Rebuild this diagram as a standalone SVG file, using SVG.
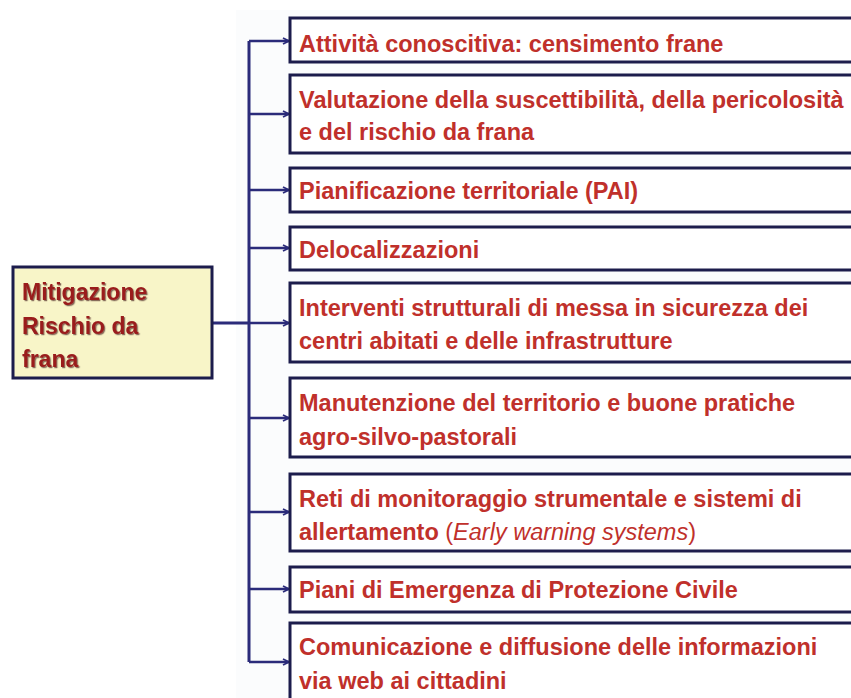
<svg xmlns="http://www.w3.org/2000/svg" width="851" height="698" viewBox="0 0 851 698">
<defs>
<marker id="ah" markerWidth="8" markerHeight="8" refX="7" refY="4" orient="auto" markerUnits="userSpaceOnUse">
<path d="M1,1 L7,4 L1,7" fill="none" stroke="#2b2b7a" stroke-width="1.8"/>
</marker>
<filter id="sh" x="-10%" y="-20%" width="120%" height="140%">
<feDropShadow dx="1.2" dy="1.2" stdDeviation="0.6" flood-color="#3a1010" flood-opacity="0.6"/>
</filter>
<style>
.bx{fill:#ffffff;stroke:#1c1c4c;stroke-width:3}
.root{fill:#f8f5c8;stroke:#1c1c4c;stroke-width:3}
.t{font-family:"Liberation Sans",Arial,sans-serif;font-weight:bold;font-size:23.5px;fill:#c0302b}
.rt{font-family:"Liberation Sans",Arial,sans-serif;font-weight:bold;font-size:23px;fill:#9a1c1c;filter:url(#sh)}
.c{fill:none;stroke:#2b2b7a;stroke-width:3}
.a{fill:none;stroke:#2b2b7a;stroke-width:2.5;marker-end:url(#ah)}
</style>
</defs>
<rect x="0" y="0" width="851" height="698" fill="#ffffff"/>
<rect x="236" y="10" width="615" height="688" fill="#fbfcfd"/>
<g id="connectors">
<path class="c" d="M212,323 L249,323 M249,41 L249,662"/>
<path class="a" d="M249,41 L289,41"/>
<path class="a" d="M249,114 L289,114"/>
<path class="a" d="M249,190 L289,190"/>
<path class="a" d="M249,248 L289,248"/>
<path class="a" d="M249,323 L289,323"/>
<path class="a" d="M249,418 L289,418"/>
<path class="a" d="M249,512 L289,512"/>
<path class="a" d="M249,589 L289,589"/>
<path class="a" d="M249,662 L289,662"/>
</g>
<g id="root">
<rect class="root" x="13" y="267" width="199" height="111"/>
<text class="rt" x="22" y="300">Mitigazione</text>
<text class="rt" x="22" y="334">Rischio da</text>
<text class="rt" x="22" y="367">frana</text>
</g>
<g id="n1">
<rect class="bx" x="290" y="18" width="580" height="44"/>
<text class="t" x="299" y="52">Attività conoscitiva: censimento frane</text>
</g>
<g id="n2">
<rect class="bx" x="290" y="75" width="580" height="78"/>
<text class="t" x="299" y="108">Valutazione della suscettibilità, della pericolosità</text>
<text class="t" x="299" y="140">e del rischio da frana</text>
</g>
<g id="n3">
<rect class="bx" x="290" y="168" width="580" height="44"/>
<text class="t" x="299" y="199">Pianificazione territoriale (PAI)</text>
</g>
<g id="n4">
<rect class="bx" x="290" y="227" width="580" height="43"/>
<text class="t" x="299" y="258">Delocalizzazioni</text>
</g>
<g id="n5">
<rect class="bx" x="290" y="283" width="580" height="79"/>
<text class="t" x="299" y="316">Interventi strutturali di messa in sicurezza dei</text>
<text class="t" x="299" y="349">centri abitati e delle infrastrutture</text>
</g>
<g id="n6">
<rect class="bx" x="290" y="378" width="580" height="79"/>
<text class="t" x="299" y="411">Manutenzione del territorio e buone pratiche</text>
<text class="t" x="299" y="445">agro-silvo-pastorali</text>
</g>
<g id="n7">
<rect class="bx" x="290" y="474" width="580" height="77"/>
<text class="t" x="299" y="507">Reti di monitoraggio strumentale e sistemi di</text>
<text class="t" x="299" y="540">allertamento <tspan font-weight="normal">(<tspan font-style="italic">Early warning systems</tspan>)</tspan></text>
</g>
<g id="n8">
<rect class="bx" x="290" y="567" width="580" height="45"/>
<text class="t" x="299" y="598">Piani di Emergenza di Protezione Civile</text>
</g>
<g id="n9">
<rect class="bx" x="290" y="623" width="580" height="90"/>
<text class="t" x="299" y="655">Comunicazione e diffusione delle informazioni</text>
<text class="t" x="299" y="689">via web ai cittadini</text>
</g>
</svg>
